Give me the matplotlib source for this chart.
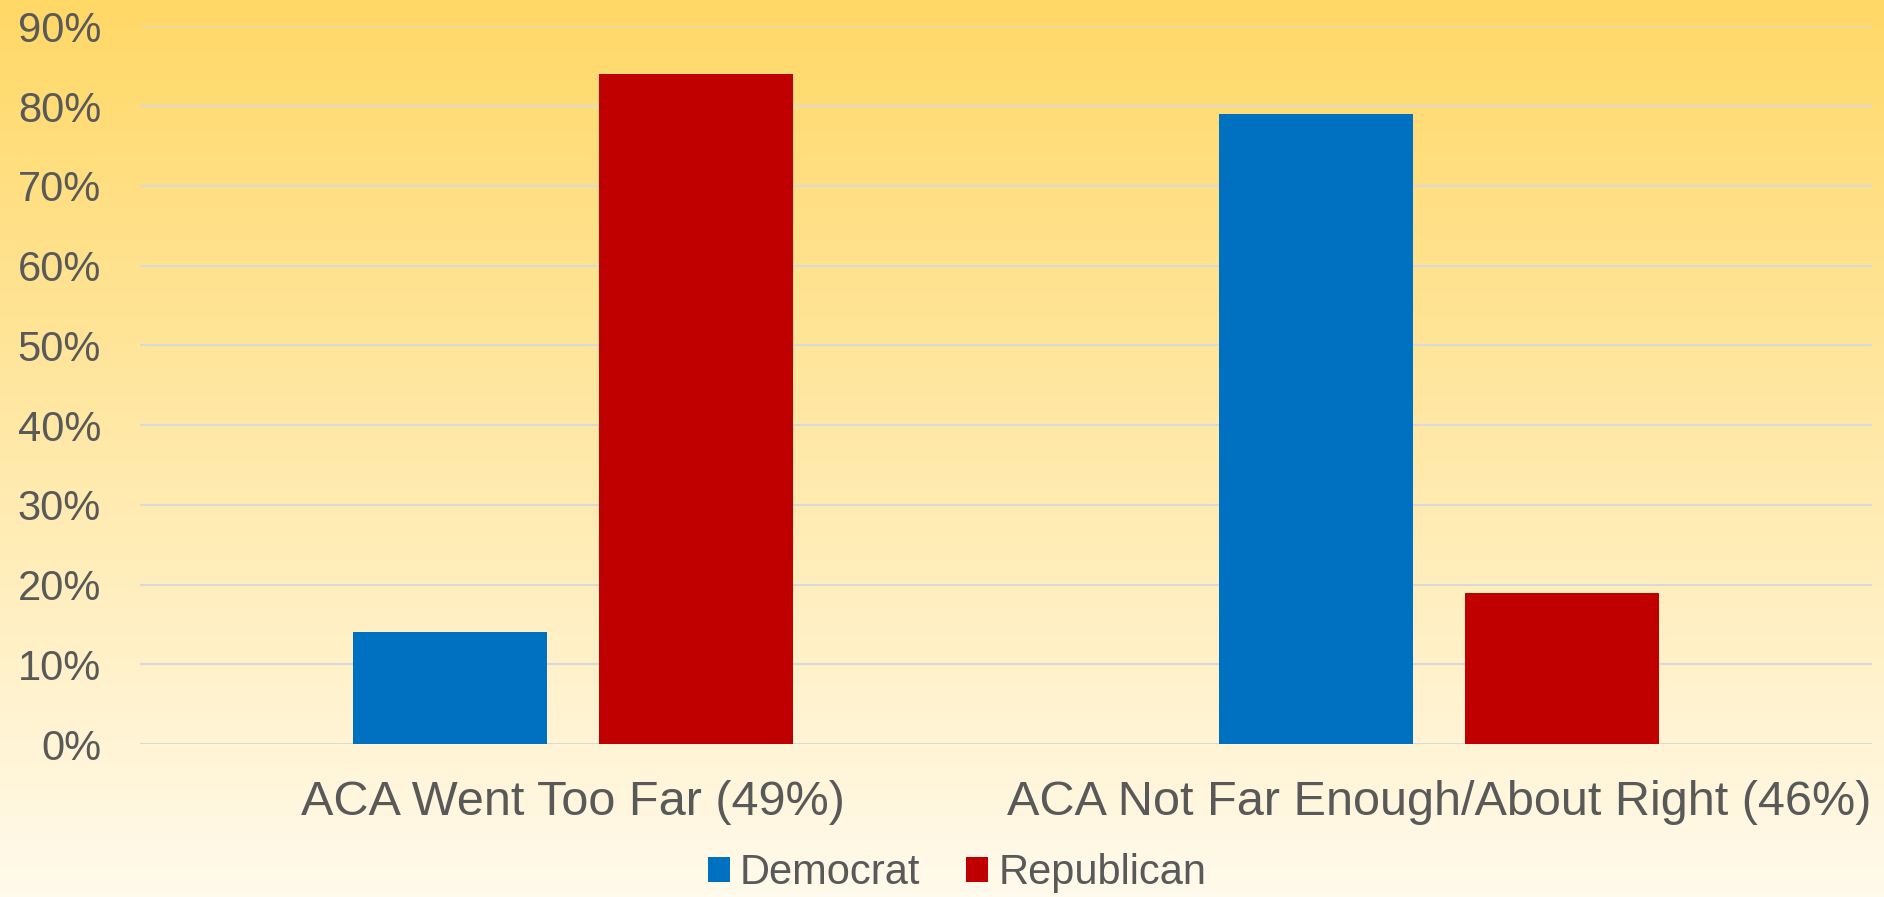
import numpy as np
import matplotlib
matplotlib.use("Agg")
import matplotlib.pyplot as plt
from matplotlib.colors import LinearSegmentedColormap

plt.rcParams['font.family'] = ['Liberation Sans', 'DejaVu Sans']

categories = ["ACA Went Too Far (49%)", "ACA Not Far Enough/About Right (46%)"]
democrat = [14, 79]
republican = [84, 19]
y_ticks = [0, 10, 20, 30, 40, 50, 60, 70, 80, 90]
y_tick_labels = [f"{t}%" for t in y_ticks]

text_color = "#595959"
grid_color = "#D9D9D9"
blue = "#0070C0"
red = "#C00000"

fig = plt.figure(figsize=(18.84, 8.97), dpi=100)

# Background gradient: gold at top fading to cream at bottom
bg = fig.add_axes([0, 0, 1, 1], zorder=-1)
cmap = LinearSegmentedColormap.from_list("bg", ["#FFFAEC", "#FFD866"])
grad = np.linspace(0, 1, 256).reshape(-1, 1)
bg.imshow(grad, aspect="auto", cmap=cmap, origin="lower", extent=[0, 1, 0, 1])
bg.axis("off")

ax = fig.add_axes([140 / 1884, 1 - 744 / 897, (1872 - 140) / 1884, (744 - 26.5) / 897])
ax.set_facecolor("none")

x = np.arange(len(categories))
width = 0.2247
offset = 0.1422
ax.bar(x - offset, democrat, width, color=blue, label="Democrat", zorder=3)
ax.bar(x + offset, republican, width, color=red, label="Republican", zorder=3)

ax.set_xlim(-0.5, 1.5)
ax.set_ylim(0, 90)
ax.set_yticks(y_ticks)
ax.set_yticklabels(y_tick_labels)
ax.set_xticks(x)
ax.set_xticklabels(categories)

ax.yaxis.grid(True, color=grid_color, linewidth=1.5, zorder=0)
ax.set_axisbelow(True)
for side in ["top", "right", "left", "bottom"]:
    ax.spines[side].set_visible(False)

ax.tick_params(axis="y", length=0, pad=28, labelsize=30, labelcolor=text_color)
ax.tick_params(axis="x", length=0, pad=26, labelsize=35, labelcolor=text_color)

fig.legend(loc="center", bbox_to_anchor=(957 / 1884, 1 - 873 / 897), ncol=2,
           frameon=False, fontsize=30, labelcolor=text_color,
           handlelength=0.53, handleheight=0.53, handletextpad=0.24,
           columnspacing=1.1, borderaxespad=0)

fig.savefig("out.png", dpi=100)
